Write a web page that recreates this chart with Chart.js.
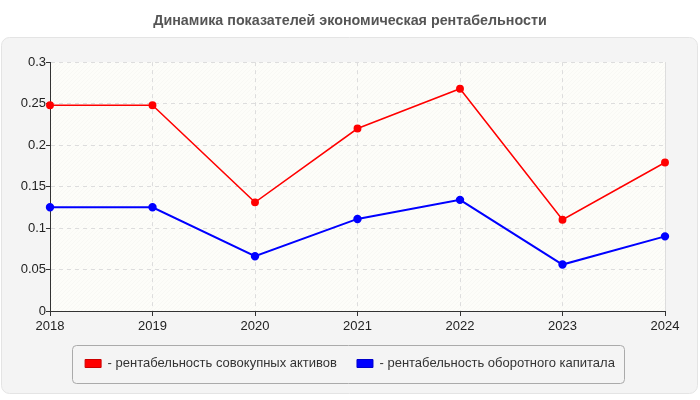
<!DOCTYPE html>
<html>
<head>
<meta charset="utf-8">
<script src="https://cdn.jsdelivr.net/npm/chart.js@4"></script>
<style>
  html, body { margin: 0; padding: 0; background: #fff; }
  #wrap { width: 700px; height: 400px; }
</style>
</head>
<body>
<div id="wrap"><canvas id="myChart" width="700" height="400"></canvas></div>
<script>
'use strict';

let years = ['2018', '2019', '2020', '2021', '2022', '2023', '2024'];
let assetsReturn = [0.248, 0.248, 0.131, 0.220, 0.268, 0.110, 0.179];
let capitalReturn = [0.125, 0.125, 0.066, 0.111, 0.134, 0.056, 0.090];
let yTicks = [0, 0.05, 0.1, 0.15, 0.2, 0.25, 0.3];
let seriesNames = ['рентабельность совокупных активов', 'рентабельность оборотного капитала'];

// grey panel behind the chart + hatched plot background
const panelPlugin = {
  id: 'panel',
  beforeDraw(chart) {
    let ctx = chart.ctx;
    ctx.save();
    ctx.fillStyle = '#f4f4f4';
    ctx.strokeStyle = '#e4e4e4';
    ctx.lineWidth = 1;
    ctx.beginPath();
    ctx.roundRect(1.5, 37.5, 696, 356, 8);
    ctx.fill();
    ctx.stroke();

    let a = chart.chartArea;
    ctx.fillStyle = '#fdfdf9';
    ctx.fillRect(a.left, a.top, a.right - a.left, a.bottom - a.top);
    ctx.beginPath();
    ctx.rect(a.left, a.top, a.right - a.left, a.bottom - a.top);
    ctx.clip();
    ctx.strokeStyle = 'rgba(0,0,0,0.022)';
    ctx.lineWidth = 1;
    ctx.beginPath();
    for (let x = a.left - (a.bottom - a.top); x < a.right; x += 4) {
      ctx.moveTo(x, a.bottom);
      ctx.lineTo(x + (a.bottom - a.top), a.top);
    }
    ctx.stroke();
    ctx.restore();

    // right border of plot
    ctx.save();
    ctx.strokeStyle = '#dddddd';
    ctx.beginPath();
    ctx.moveTo(a.right + 0.5, a.top);
    ctx.lineTo(a.right + 0.5, a.bottom);
    ctx.stroke();
    ctx.restore();
  },
  afterDraw(chart) {
    // frame around the legend
    let boxes = chart.legend.legendHitBoxes;
    if (!boxes || !boxes.length) return;
    let left = Math.min(...boxes.map(b => b.left)) - 13;
    let right = Math.max(...boxes.map(b => b.left + b.width)) + 9;
    let mid = boxes[0].top + boxes[0].height / 2;
    let ctx = chart.ctx;
    ctx.save();
    ctx.strokeStyle = '#aaaaaa';
    ctx.lineWidth = 1;
    ctx.beginPath();
    ctx.roundRect(Math.round(left) + 0.5, Math.round(mid - 19) + 0.5, Math.round(right - left), 38, 4);
    ctx.stroke();
    ctx.restore();
  }
};

const ctx = document.getElementById('myChart');

new Chart(ctx, {
  type: 'line',
  data: {
    labels: years,
    datasets: [{
      label: seriesNames[0],
      data: assetsReturn,
      borderColor: '#ff0000',
      backgroundColor: '#ff0000',
      borderWidth: 1.5,
      pointRadius: 3.2,
      pointHoverRadius: 4,
      tension: 0
    },
    {
      label: seriesNames[1],
      data: capitalReturn,
      borderColor: '#0000ff',
      backgroundColor: '#0000ff',
      borderWidth: 2,
      pointRadius: 3.2,
      pointHoverRadius: 4,
      tension: 0
    }]
  },
  options: {
    responsive: false,
    animation: false,
    layout: { padding: { left: 10, right: 10, top: 0, bottom: 20 } },
    plugins: {
      title: {
        display: true,
        text: 'Динамика показателей экономическая рентабельности',
        color: '#555',
        font: { family: 'Liberation Sans', size: 14.3, weight: 'bold' },
        padding: { top: 12, bottom: 33 }
      },
      legend: {
        position: 'bottom',
        labels: {
          color: '#333',
          font: { family: 'Liberation Sans', size: 13 },
          boxWidth: 16,
          boxHeight: 8,
          useBorderRadius: true,
          borderRadius: 3,
          padding: 20,
          generateLabels(chart) {
            return chart.data.datasets.map((ds, i) => ({
              text: '- ' + ds.label,
              fillStyle: ds.borderColor,
              strokeStyle: ds.borderColor === '#ff0000' ? '#cc0000' : '#0000cc',
              lineWidth: 1,
              fontColor: '#333',
              hidden: false,
              datasetIndex: i
            }));
          }
        }
      },
      tooltip: { enabled: false }
    },
    scales: {
      x: {
        offset: false,
        grid: {
          color: '#dddddd',
          drawTicks: true,
          tickLength: 5,
          tickColor: '#333'
        },
        border: { color: '#333', width: 1, dash: [4, 4] },
        ticks: {
          color: '#222',
          font: { family: 'Liberation Sans', size: 13 },
          maxRotation: 0,
          padding: 3
        },
        afterFit(scale) { scale.height = 26; }
      },
      y: {
        min: 0,
        max: 0.3,
        afterBuildTicks(scale) {
          scale.ticks = yTicks.map(v => ({ value: v }));
        },
        grid: {
          color: '#dddddd',
          tickLength: 4,
          tickColor: '#333'
        },
        border: { color: '#333', width: 1, dash: [4, 4] },
        ticks: {
          color: '#222',
          font: { family: 'Liberation Sans', size: 13 },
          padding: 0,
          callback: v => String(Math.round(v * 100) / 100)
        },
        afterFit(scale) { scale.width = 40; }
      },
      // empty spacer on the right so title and legend stay centred
      spacer: {
        type: 'linear',
        position: 'right',
        display: true,
        grid: { display: false },
        border: { display: false },
        ticks: { display: false },
        afterFit(scale) { scale.width = 25; }
      }
    }
  },
  plugins: [panelPlugin]
});
</script>
</body>
</html>
